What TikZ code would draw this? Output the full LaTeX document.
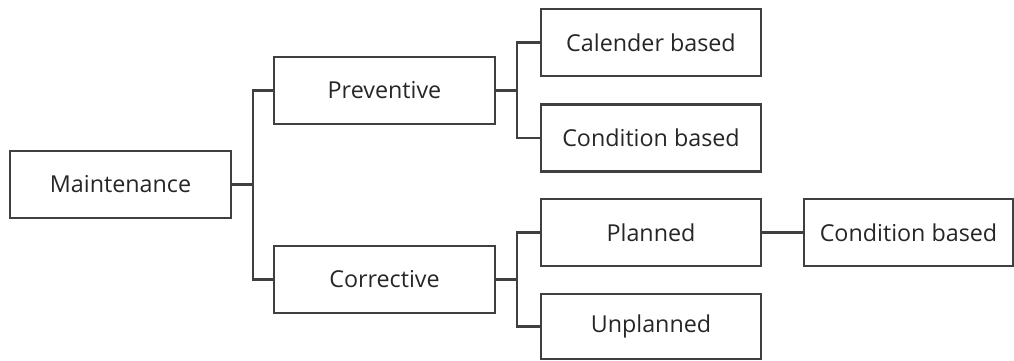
\documentclass[tikz,border=0pt]{standalone}
\usepackage{fontspec}
\setmainfont{Open Sans}
\begin{document}
\begin{tikzpicture}[x=1pt,y=-1pt,
  box/.style={draw=black!75, line width=2.3pt, minimum width=221pt, minimum height=67pt, inner sep=0pt, anchor=center, text=black!85, font=\fontsize{23.3}{27}\selectfont},
  conn/.style={draw=black!75, line width=2.3pt}]
\useasboundingbox (0,0) rectangle (1014,360);
\node[box] (m) at (120.5,184.5) {Maintenance};
\node[box] (p) at (384.5,90.5) {Preventive};
\node[box] (c) at (384.5,279.5) {Corrective};
\node[box, minimum width=220pt] (cal) at (651,42.5) {Calender based};
\node[box, minimum width=220pt] (con) at (651,138) {Condition based};
\node[box, minimum width=220pt] (pl) at (651,232.5) {Planned};
\node[box, minimum width=220pt, minimum height=65pt] (un) at (651,326.5) {Unplanned};
\node[box, minimum width=209pt] (con2) at (908.5,232.5) {Condition based};
\coordinate (b1) at (253,184.5);
\coordinate (b2) at (517,90.5);
\coordinate (b3) at (517,279.5);
\draw[conn] (m.east) -- (b1);
\draw[conn] (p.west) -| (b1) |- (c.west);
\draw[conn] (p.east) -- (b2);
\draw[conn] (cal.west) -| (b2) |- (con.west);
\draw[conn] (c.east) -- (b3);
\draw[conn] (pl.west) -| (b3) |- (un.west);
\draw[conn] (pl.east) -- (con2.west);
\end{tikzpicture}
\end{document}
